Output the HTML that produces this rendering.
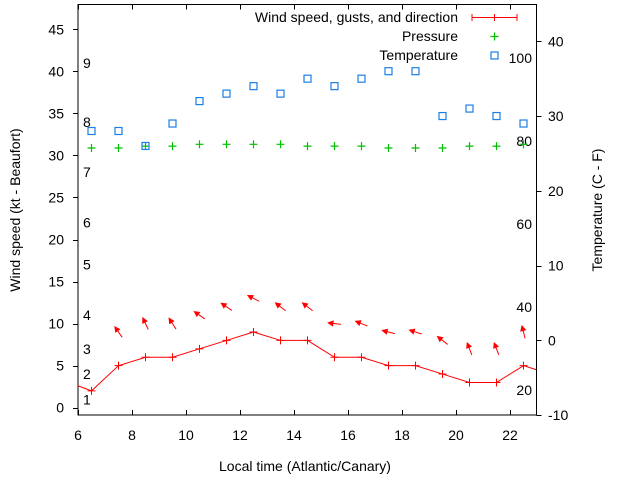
<!DOCTYPE html>
<html><head><meta charset="utf-8"><style>
html,body{margin:0;padding:0;background:#fff}
svg{display:block;font-family:"Liberation Sans",sans-serif}
</style></head><body>
<svg id="chart" width="640" height="480" viewBox="0 0 640 480" xmlns="http://www.w3.org/2000/svg">
<defs><clipPath id="clip"><rect x="78" y="4" width="458" height="411"/></clipPath></defs>
<g id="gAxes"></g>
<g id="gPlot" clip-path="url(#clip)"></g>
<g id="gLegend">
  <text x="458" y="22" font-size="14" text-anchor="end" fill="#000">Wind speed, gusts, and direction</text>
  <line x1="472" y1="17.5" x2="517" y2="17.5" stroke="#f00"/>
  <line x1="472" y1="14" x2="472" y2="21" stroke="#f00"/>
  <line x1="494.5" y1="14" x2="494.5" y2="21" stroke="#f00"/>
  <line x1="517" y1="14" x2="517" y2="21" stroke="#f00"/>
  <text x="458" y="41" font-size="14" text-anchor="end" fill="#000">Pressure</text>
  <path d="M490.5 36.5h8M494.5 32.5v8" stroke="#00c000" stroke-width="1.2"/>
  <text x="458" y="60" font-size="14" text-anchor="end" fill="#000">Temperature</text>
  <rect x="491" y="52" width="7" height="7" fill="none" stroke="#1a7fe6" stroke-width="1.2"/>
</g>
<text x="305" y="471" font-size="14" text-anchor="middle">Local time (Atlantic/Canary)</text>
<text transform="translate(20,210) rotate(-90)" font-size="14" text-anchor="middle">Wind speed (kt - Beaufort)</text>
<text transform="translate(602,210) rotate(-90)" font-size="14" text-anchor="middle">Temperature (C - F)</text>
</svg>
<script>
const hours = [6.5,7.5,8.5,9.5,10.5,11.5,12.5,13.5,14.5,15.5,16.5,17.5,18.5,19.5,20.5,21.5,22.5];
const windKt = [2,5,6,6,7,8,9,8,8,6,6,5,5,4,3,3,5];
const windEdgeHours = [5.5,23.5];
const windEdgeKt = [3.2,4];
const gustKt = [null,9,10,10,11,12,13,12,12,10,10,9,9,8,7,7,9];
const windHeadingDeg = [null,325,335,327,305,304,297,308,308,277,292,284,288,308,339,339,346];
const pressureHpa = [1016,1016,1017,1017,1018,1018,1018,1018,1017,1017,1017,1016,1016,1016,1017,1017,1018];
const tempC = [28,28,26,29,32,33,34,33,35,34,35,36,36,30,31,30,29];
const xTicks = [6,8,10,12,14,16,18,20,22];
const yTicks = [0,5,10,15,20,25,30,35,40,45];
const y2Ticks = [-10,0,10,20,30,40];
const beaufortKt = [1,4,7,11,17,22,28,34,41];
const beaufortLabels = ['1','2','3','4','5','6','7','8','9'];
const fahrenheitLabels = [20,40,60,80,100];

const X = h => 78 + (h-6)*27;
const Y = k => 407.7 - k*8.41;
const Y2 = c => 340.3 - c*7.475;
const YP = p => 148 - (p-1016)*1.85;
const NS = 'http://www.w3.org/2000/svg';
function mk(tag, attrs, parent){const e=document.createElementNS(NS,tag);for(const k in attrs)e.setAttribute(k,attrs[k]);parent.appendChild(e);return e;}
const ax = document.getElementById('gAxes');
const pl = document.getElementById('gPlot');

let fr = mk('rect',{x:78,y:4.5,width:458.5,height:410.5,fill:'none',stroke:'#000'},ax);


xTicks.forEach(t=>{
  const x=X(t)+0.5;
  let l=mk('path',{d:`M${x} 415v-5M${x} 4.5v5`,stroke:'#000'},ax);
  
  
  let tx=mk('text',{x:X(t),y:440,'font-size':14,'text-anchor':'middle'},ax);
  tx.textContent=t;
  
  
});
yTicks.forEach(t=>{
  const y=Math.round(Y(t))+0.5;
  let l=mk('path',{d:`M73 ${y}h5`,stroke:'#000'},ax);
  
  
  let tx=mk('text',{x:64,y:Y(t)+5,'font-size':14,'text-anchor':'end'},ax);
  tx.textContent=t;
  
  
});
y2Ticks.forEach(t=>{
  const y=Math.round(Y2(t))+0.5;
  let l=mk('path',{d:`M536.5 ${y}h5`,stroke:'#000'},ax);
  
  
  let tx=mk('text',{x:548,y:Y2(t)+5,'font-size':14,'text-anchor':'start'},ax);
  tx.textContent=t;
  
  
});
beaufortKt.forEach((k,i)=>{
  let tx=mk('text',{x:83,y:Y(k)+5,'font-size':14},ax);
  tx.textContent=beaufortLabels[i];
  
  
});
fahrenheitLabels.forEach(f=>{
  let tx=mk('text',{x:532,y:Y2((f-32)*5/9)+5,'font-size':14,'text-anchor':'end'},ax);
  tx.textContent=f;
  
  
});

// wind line
const pts=[[windEdgeHours[0],windEdgeKt[0]]].concat(hours.map((h,i)=>[h,windKt[i]])).concat([[windEdgeHours[1],windEdgeKt[1]]]);
let wl=mk('polyline',{points:pts.map(p=>X(p[0])+','+Y(p[1])).join(' '),fill:'none',stroke:'#f00','stroke-width':1},pl);


hours.forEach((h,i)=>{
  const x=X(h),y=Y(windKt[i]);
  let m=mk('path',{d:`M${x-4} ${y}h8M${x} ${y-4}v8`,stroke:'#f00'},pl);
  
  
});
// gust arrows
hours.forEach((h,i)=>{
  if(gustKt[i]==null)return;
  const cx=X(h),cy=Y(gustKt[i]);
  const a=windHeadingDeg[i]*Math.PI/180, L=13;
  const dx=Math.sin(a)*L/2, dy=-Math.cos(a)*L/2;
  const x1=cx-dx,y1=cy-dy,x2=cx+dx,y2=cy+dy;
  const ux=dx/(L/2),uy=dy/(L/2);
  const bx=x2-ux*5,by=y2-uy*5;
  const g=mk('g',{},pl);
  
  
  mk('line',{x1:x1,y1:y1,x2:bx,y2:by,stroke:'#f00','stroke-width':1},g);
  mk('polygon',{points:`${x2},${y2} ${bx-uy*2.5},${by+ux*2.5} ${bx+uy*2.5},${by-ux*2.5}`,fill:'#f00',stroke:'#f00','stroke-width':0.8},g);
});
// pressure
hours.forEach((h,i)=>{
  const x=X(h),y=YP(pressureHpa[i]);
  let m=mk('path',{d:`M${x-4} ${y}h8M${x} ${y-4}v8`,stroke:'#00c000','stroke-width':1.2},pl);
  
  
});
// temperature
hours.forEach((h,i)=>{
  const x=X(h),y=Y2(tempC[i]);
  let m=mk('rect',{x:x-3.5,y:y-3.5,width:7,height:7,fill:'none',stroke:'#1a7fe6','stroke-width':1.2},pl);
  
  
});
</script>
</body></html>
